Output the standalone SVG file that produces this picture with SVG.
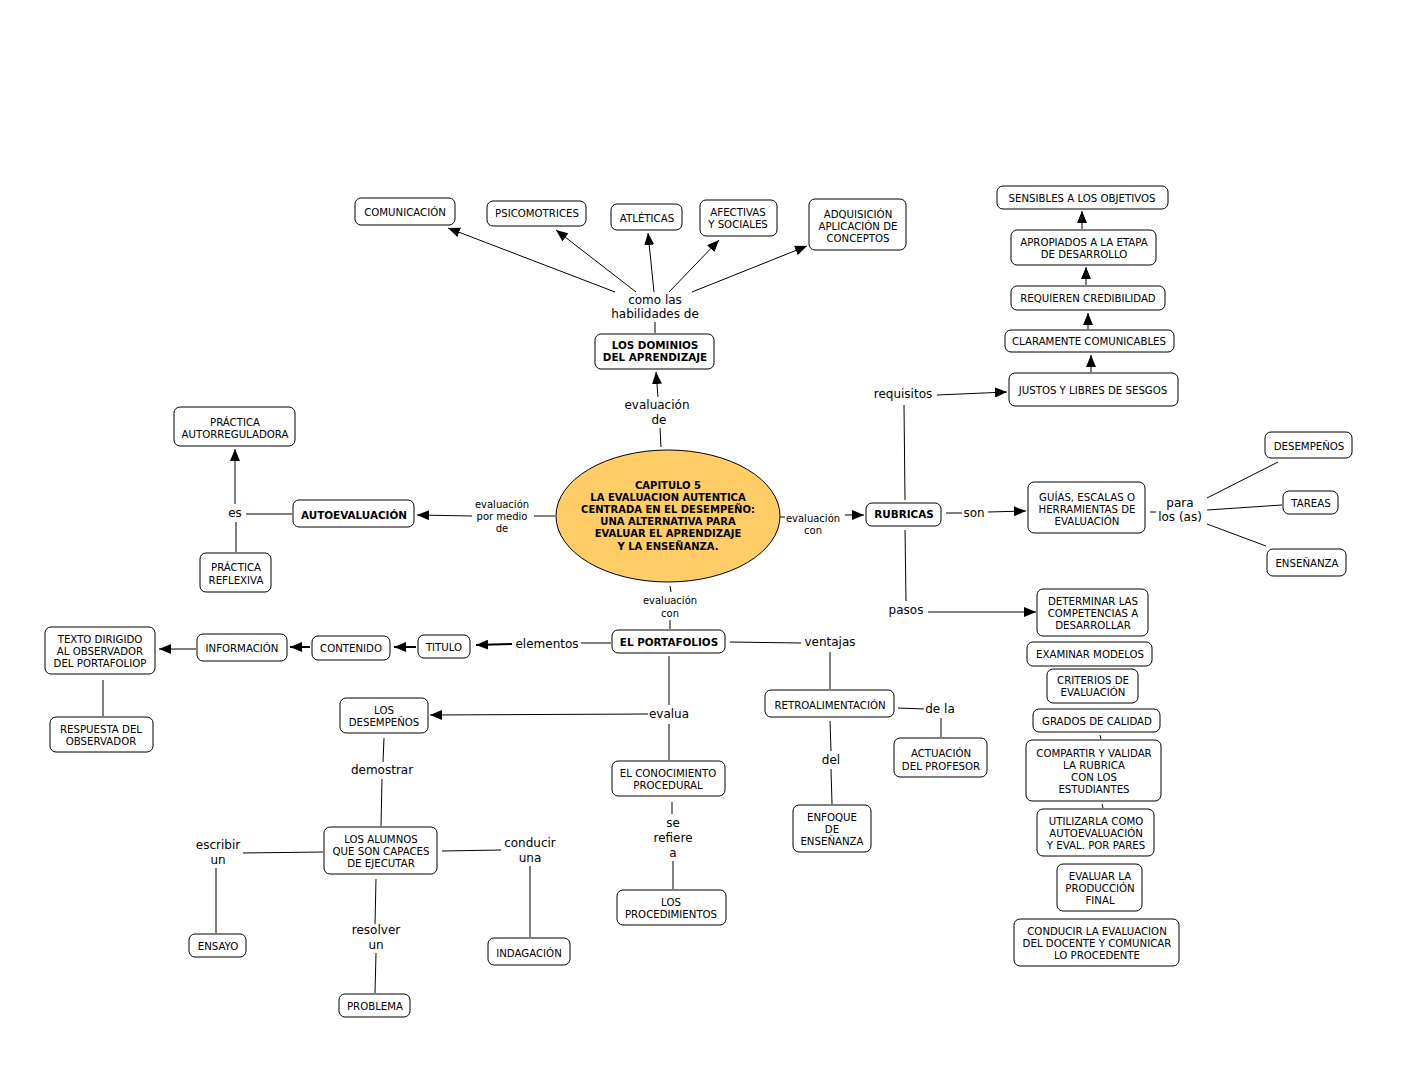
<svg xmlns="http://www.w3.org/2000/svg" width="1401" height="1069" viewBox="0 0 1401 1069">
<style>
.b{fill:#fff;stroke:#000;stroke-width:1}
.t{font-family:"DejaVu Sans",Verdana,sans-serif;font-size:10.2px;fill:#000;text-anchor:middle}
.tb{font-family:"DejaVu Sans",Verdana,sans-serif;font-size:10.4px;font-weight:bold;fill:#000;text-anchor:middle}
.tc{font-family:"DejaVu Sans",Verdana,sans-serif;font-size:10px;font-weight:bold;fill:#000;text-anchor:middle}
.l{font-family:"DejaVu Sans",Verdana,sans-serif;font-size:12px;fill:#000;text-anchor:middle}
.s{font-family:"DejaVu Sans",Verdana,sans-serif;font-size:10px;fill:#000;text-anchor:middle}
#connectors path{fill:none;stroke:#000;stroke-width:1}
#connectors path.a{marker-end:url(#ah)}
#connectors path.w{stroke-width:2}
</style>
<defs>
<marker id="ah" markerUnits="userSpaceOnUse" markerWidth="12" markerHeight="10" refX="12" refY="5" orient="auto">
<path d="M0,0 L12,5 L0,10 z" fill="#000"/>
</marker>
</defs>
<rect width="1401" height="1069" fill="#fff"/>

<g id="connectors">
<path class="a" d="M615,292 L448,228"/>
<path class="a" d="M636,292 L556,230"/>
<path class="a" d="M654,292 L648,233"/>
<path class="a" d="M669,292 L719,240"/>
<path class="a" d="M692,292 L807,246"/>
<path d="M655,322 L655,333"/>
<path d="M661,447 L660,428"/>
<path class="a" d="M658,397 L656,372"/>
<path d="M555,516 L534,516"/>
<path class="a" d="M472,516 L417,515"/>
<path d="M292,514 L246,514"/>
<path class="a" d="M235,504 L235,449"/>
<path d="M236,522 L236,552"/>
<path d="M780,517 L785,517"/>
<path class="a" d="M845,515 L864,515"/>
<path d="M946,513 L962,513"/>
<path class="a" d="M988,512 L1026,511"/>
<path d="M1150,512 L1156,512"/>
<path d="M1207,498 L1278,462"/>
<path d="M1207,510 L1282,505"/>
<path d="M1207,524 L1266,546"/>
<path d="M905,500 L904,405"/>
<path class="a" d="M937,395 L1007,392"/>
<path class="a" d="M1091,372 L1091,355"/>
<path class="a" d="M1088,329 L1088,313"/>
<path class="a" d="M1086,285 L1086,267"/>
<path class="a" d="M1082,229 L1082,211"/>
<path d="M905,530 L906,601"/>
<path class="a" d="M928,612 L1036,612"/>
<path d="M1100,735 L1101,739"/>
<path d="M1102,804 L1103,808"/>
<path d="M670,586 L671,592"/>
<path d="M670,620 L670,629"/>
<path d="M611,643 L581,643"/>
<path class="a w" d="M512,644 L476,645"/>
<path class="a w" d="M416,647 L394,647"/>
<path class="a w" d="M310,647 L290,647"/>
<path class="a" d="M196,649 L159,649"/>
<path d="M103,680 L103,716"/>
<path d="M730,642 L801,643"/>
<path d="M830,652 L830,689"/>
<path d="M898,708 L924,709"/>
<path d="M941,718 L941,737"/>
<path d="M830,721 L831,751"/>
<path d="M831,769 L832,804"/>
<path d="M669,656 L669,705"/>
<path class="a" d="M648,714 L430,715"/>
<path d="M669,724 L669,760"/>
<path d="M672,802 L672,814"/>
<path d="M673,861 L673,889"/>
<path d="M384,738 L383,762"/>
<path d="M382,779 L381,826"/>
<path d="M323,852 L243,853"/>
<path d="M216,868 L216,933"/>
<path d="M442,851 L501,850"/>
<path d="M530,866 L530,937"/>
<path d="M376,879 L375,924"/>
<path d="M376,953 L375,993"/>
</g>

<g id="labels">
<text class="l" x="655" y="304">como las</text>
<text class="l" x="655" y="318">habilidades de</text>
<text class="l" x="657" y="409">evaluación</text>
<text class="l" x="659" y="424">de</text>
<text class="l" x="235" y="517">es</text>
<text class="l" x="974" y="517">son</text>
<text class="l" x="1180" y="507">para</text>
<text class="l" x="1180" y="521">los (as)</text>
<text class="l" x="903" y="398">requisitos</text>
<text class="l" x="906" y="614">pasos</text>
<text class="l" x="547" y="648">elementos</text>
<text class="l" x="830" y="646">ventajas</text>
<text class="l" x="940" y="713">de la</text>
<text class="l" x="831" y="764">del</text>
<text class="l" x="669" y="718">evalua</text>
<text class="l" x="673" y="827">se</text>
<text class="l" x="673" y="842">refiere</text>
<text class="l" x="673" y="857">a</text>
<text class="l" x="382" y="774">demostrar</text>
<text class="l" x="218" y="849">escribir</text>
<text class="l" x="218" y="864">un</text>
<text class="l" x="530" y="847">conducir</text>
<text class="l" x="530" y="862">una</text>
<text class="l" x="376" y="934">resolver</text>
<text class="l" x="376" y="949">un</text>
<text class="s" x="502" y="508">evaluación</text>
<text class="s" x="502" y="520">por medio</text>
<text class="s" x="502" y="532">de</text>
<text class="s" x="813" y="522">evaluación</text>
<text class="s" x="813" y="534">con</text>
<text class="s" x="670" y="604">evaluación</text>
<text class="s" x="670" y="617">con</text>
</g>

<g id="n-central">
<ellipse cx="668" cy="516" rx="112" ry="66" fill="#ffcc66" stroke="#000" stroke-width="1"/>
<text class="tc" x="668" y="489">CAPITULO 5</text>
<text class="tc" x="668" y="501">LA EVALUACION AUTENTICA</text>
<text class="tc" x="668" y="513">CENTRADA EN EL DESEMPEÑO:</text>
<text class="tc" x="668" y="525">UNA ALTERNATIVA PARA</text>
<text class="tc" x="668" y="537">EVALUAR EL APRENDIZAJE</text>
<text class="tc" x="668" y="550">Y LA ENSEÑANZA.</text>
</g>

<g id="n-comunicacion"><rect class="b" x="355" y="198" width="100" height="27" rx="6"/><text class="t" x="405" y="216">COMUNICACIÓN</text></g>
<g id="n-psicomotrices"><rect class="b" x="487" y="201" width="99" height="25" rx="6"/><text class="t" x="537" y="217">PSICOMOTRICES</text></g>
<g id="n-atleticas"><rect class="b" x="611" y="204" width="71" height="26" rx="6"/><text class="t" x="647" y="222">ATLÉTICAS</text></g>
<g id="n-afectivas"><rect class="b" x="700" y="200" width="77" height="36" rx="6"/><text class="t" x="738" y="216">AFECTIVAS</text><text class="t" x="738" y="228">Y SOCIALES</text></g>
<g id="n-adquisicion"><rect class="b" x="809" y="199" width="97" height="51" rx="6"/><text class="t" x="858" y="218">ADQUISICIÓN</text><text class="t" x="858" y="230">APLICACIÓN DE</text><text class="t" x="858" y="242">CONCEPTOS</text></g>
<g id="n-dominios"><rect class="b" x="595" y="334" width="119" height="35" rx="6"/><text class="tb" x="655" y="349">LOS DOMINIOS</text><text class="tb" x="655" y="361">DEL APRENDIZAJE</text></g>
<g id="n-autoevaluacion"><rect class="b" x="293" y="500" width="121" height="27" rx="6"/><text class="tb" x="354" y="519">AUTOEVALUACIÓN</text></g>
<g id="n-autorreguladora"><rect class="b" x="174" y="407" width="121" height="39" rx="6"/><text class="t" x="235" y="426">PRÁCTICA</text><text class="t" x="235" y="438">AUTORREGULADORA</text></g>
<g id="n-reflexiva"><rect class="b" x="200" y="553" width="71" height="39" rx="6"/><text class="t" x="236" y="571">PRÁCTICA</text><text class="t" x="236" y="584">REFLEXIVA</text></g>
<g id="n-rubricas"><rect class="b" x="866" y="503" width="75" height="23" rx="6"/><text class="tb" x="904" y="518">RUBRICAS</text></g>
<g id="n-guias"><rect class="b" x="1028" y="482" width="117" height="51" rx="6"/><text class="t" x="1087" y="501">GUÍAS, ESCALAS O</text><text class="t" x="1087" y="513">HERRAMIENTAS DE</text><text class="t" x="1087" y="525">EVALUACIÓN</text></g>
<g id="n-desempenos-r"><rect class="b" x="1265" y="432" width="87" height="26" rx="6"/><text class="t" x="1309" y="450">DESEMPEÑOS</text></g>
<g id="n-tareas"><rect class="b" x="1283" y="491" width="55" height="23" rx="6"/><text class="t" x="1311" y="507">TAREAS</text></g>
<g id="n-ensenanza-r"><rect class="b" x="1267" y="549" width="79" height="27" rx="6"/><text class="t" x="1307" y="567">ENSEÑANZA</text></g>
<g id="n-justos"><rect class="b" x="1009" y="373" width="169" height="33" rx="6"/><text class="t" x="1093" y="394">JUSTOS Y LIBRES DE SESGOS</text></g>
<g id="n-claramente"><rect class="b" x="1005" y="330" width="169" height="22" rx="6"/><text class="t" x="1089" y="345">CLARAMENTE COMUNICABLES</text></g>
<g id="n-requieren"><rect class="b" x="1011" y="286" width="154" height="24" rx="6"/><text class="t" x="1088" y="302">REQUIEREN CREDIBILIDAD</text></g>
<g id="n-apropiados"><rect class="b" x="1011" y="230" width="145" height="35" rx="6"/><text class="t" x="1084" y="246">APROPIADOS A LA ETAPA</text><text class="t" x="1084" y="258">DE DESARROLLO</text></g>
<g id="n-sensibles"><rect class="b" x="997" y="186" width="171" height="23" rx="6"/><text class="t" x="1082" y="202">SENSIBLES A LOS OBJETIVOS</text></g>
<g id="n-determinar"><rect class="b" x="1037" y="589" width="111" height="47" rx="6"/><text class="t" x="1093" y="605">DETERMINAR LAS</text><text class="t" x="1093" y="617">COMPETENCIAS A</text><text class="t" x="1093" y="629">DESARROLLAR</text></g>
<g id="n-examinar"><rect class="b" x="1027" y="642" width="125" height="24" rx="6"/><text class="t" x="1090" y="658">EXAMINAR MODELOS</text></g>
<g id="n-criterios"><rect class="b" x="1047" y="669" width="91" height="34" rx="6"/><text class="t" x="1093" y="684">CRITERIOS DE</text><text class="t" x="1093" y="696">EVALUACIÓN</text></g>
<g id="n-grados"><rect class="b" x="1033" y="709" width="127" height="23" rx="6"/><text class="t" x="1097" y="725">GRADOS DE CALIDAD</text></g>
<g id="n-compartir"><rect class="b" x="1026" y="740" width="135" height="61" rx="6"/><text class="t" x="1094" y="757">COMPARTIR Y VALIDAR</text><text class="t" x="1094" y="769">LA RUBRICA</text><text class="t" x="1094" y="781">CON LOS</text><text class="t" x="1094" y="793">ESTUDIANTES</text></g>
<g id="n-utilizarla"><rect class="b" x="1037" y="809" width="117" height="47" rx="6"/><text class="t" x="1096" y="825">UTILIZARLA COMO</text><text class="t" x="1096" y="837">AUTOEVALUACIÓN</text><text class="t" x="1096" y="849">Y EVAL. POR PARES</text></g>
<g id="n-evaluar"><rect class="b" x="1057" y="864" width="85" height="47" rx="6"/><text class="t" x="1100" y="880">EVALUAR LA</text><text class="t" x="1100" y="892">PRODUCCIÓN</text><text class="t" x="1100" y="904">FINAL</text></g>
<g id="n-conducir-ev"><rect class="b" x="1014" y="919" width="165" height="47" rx="6"/><text class="t" x="1097" y="935">CONDUCIR LA EVALUACION</text><text class="t" x="1097" y="947">DEL DOCENTE Y COMUNICAR</text><text class="t" x="1097" y="959">LO PROCEDENTE</text></g>
<g id="n-portafolios"><rect class="b" x="612" y="630" width="113" height="23" rx="6"/><text class="tb" x="669" y="646">EL PORTAFOLIOS</text></g>
<g id="n-titulo"><rect class="b" x="418" y="635" width="52" height="23" rx="6"/><text class="t" x="444" y="651">TITULO</text></g>
<g id="n-contenido"><rect class="b" x="312" y="636" width="78" height="24" rx="6"/><text class="t" x="351" y="652">CONTENIDO</text></g>
<g id="n-informacion"><rect class="b" x="197" y="634" width="90" height="27" rx="6"/><text class="t" x="242" y="652">INFORMACIÓN</text></g>
<g id="n-texto"><rect class="b" x="45" y="627" width="110" height="47" rx="6"/><text class="t" x="100" y="643">TEXTO DIRIGIDO</text><text class="t" x="100" y="655">AL OBSERVADOR</text><text class="t" x="100" y="667">DEL PORTAFOLIOP</text></g>
<g id="n-respuesta"><rect class="b" x="50" y="717" width="103" height="35" rx="6"/><text class="t" x="101" y="733">RESPUESTA DEL</text><text class="t" x="101" y="745">OBSERVADOR</text></g>
<g id="n-retro"><rect class="b" x="765" y="690" width="129" height="27" rx="6"/><text class="t" x="830" y="709">RETROALIMENTACIÓN</text></g>
<g id="n-actuacion"><rect class="b" x="894" y="738" width="93" height="39" rx="6"/><text class="t" x="941" y="757">ACTUACIÓN</text><text class="t" x="941" y="770">DEL PROFESOR</text></g>
<g id="n-enfoque"><rect class="b" x="793" y="805" width="78" height="47" rx="6"/><text class="t" x="832" y="821">ENFOQUE</text><text class="t" x="832" y="833">DE</text><text class="t" x="832" y="845">ENSEÑANZA</text></g>
<g id="n-desempenos-l"><rect class="b" x="340" y="698" width="88" height="35" rx="6"/><text class="t" x="384" y="714">LOS</text><text class="t" x="384" y="726">DESEMPEÑOS</text></g>
<g id="n-conocimiento"><rect class="b" x="612" y="761" width="113" height="35" rx="6"/><text class="t" x="668" y="777">EL CONOCIMIENTO</text><text class="t" x="668" y="789">PROCEDURAL</text></g>
<g id="n-procedimientos"><rect class="b" x="617" y="890" width="109" height="35" rx="6"/><text class="t" x="671" y="906">LOS</text><text class="t" x="671" y="918">PROCEDIMIENTOS</text></g>
<g id="n-alumnos"><rect class="b" x="324" y="827" width="113" height="47" rx="6"/><text class="t" x="381" y="843">LOS ALUMNOS</text><text class="t" x="381" y="855">QUE SON CAPACES</text><text class="t" x="381" y="867">DE EJECUTAR</text></g>
<g id="n-ensayo"><rect class="b" x="189" y="934" width="57" height="23" rx="6"/><text class="t" x="218" y="950">ENSAYO</text></g>
<g id="n-indagacion"><rect class="b" x="488" y="938" width="82" height="27" rx="6"/><text class="t" x="529" y="957">INDAGACIÓN</text></g>
<g id="n-problema"><rect class="b" x="339" y="994" width="71" height="23" rx="6"/><text class="t" x="375" y="1010">PROBLEMA</text></g>
</svg>
